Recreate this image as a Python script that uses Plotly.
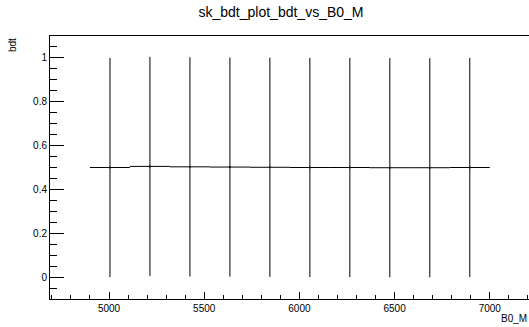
import plotly.graph_objects as go

# Profile of bdt versus B0_M: 10 bins from 4900 to 7000
bin_centers = [5005, 5215, 5425, 5635, 5845, 6055, 6265, 6475, 6685, 6895]
bdt_mean = [0.500, 0.505, 0.503, 0.502, 0.501, 0.500, 0.500, 0.499, 0.499, 0.500]
bdt_spread = [0.5, 0.5, 0.5, 0.5, 0.5, 0.5, 0.5, 0.5, 0.5, 0.5]
half_bin = [105] * 10

W, H = 529, 327
L, R, T, B = 50, 0, 36, 28
PW, PH = W - L - R, H - T - B


def px_to_paper(xp, yp):
    """Convert pixel position in the figure to paper coordinates of the plot area."""
    return (xp - L) / PW, (H - B - yp) / PH


fig = go.Figure()
fig.add_trace(go.Scatter(
    x=bin_centers, y=bdt_mean, mode="markers",
    marker=dict(color="black", size=2),
    error_x=dict(type="data", array=half_bin, width=0, thickness=1, color="black"),
    error_y=dict(type="data", array=bdt_spread, width=0, thickness=1, color="black"),
    showlegend=False, hoverinfo="x+y",
))

font = dict(family="Liberation Sans, Arial, sans-serif", color="black")

ytx, yty = px_to_paper(12, 36)
xtx, xty = px_to_paper(529, 318)

fig.update_layout(
    width=W, height=H,
    margin=dict(l=L, r=R, t=T, b=B),
    paper_bgcolor="white", plot_bgcolor="white",
    font=dict(**font, size=10),
    title=dict(text="sk_bdt_plot_bdt_vs_B0_M", x=281 / W, y=1 - 12 / H,
               xref="container", yref="container",
               xanchor="center", yanchor="middle", font=dict(**font, size=14)),
    xaxis=dict(
        range=[4690, 7206], showgrid=False, zeroline=False,
        showline=True, linecolor="black", linewidth=1, mirror=True,
        ticks="inside", ticklen=7, tickcolor="black",
        tick0=5000, dtick=500,
        minor=dict(ticks="inside", ticklen=4, dtick=100, tick0=5000, tickcolor="black"),
        tickfont=dict(**font, size=10),
    ),
    yaxis=dict(
        range=[-0.1, 1.1], showgrid=False, zeroline=False,
        showline=True, linecolor="black", linewidth=1, mirror=True,
        ticks="inside", ticklen=14, tickcolor="black",
        tick0=0, dtick=0.2,
        minor=dict(ticks="inside", ticklen=7, dtick=0.05, tick0=0, tickcolor="black"),
        tickfont=dict(**font, size=10),
    ),
    annotations=[
        dict(text="bdt", x=ytx, y=yty, xref="paper", yref="paper",
             showarrow=False, textangle=-90, xanchor="center", yanchor="top",
             font=dict(**font, size=10)),
        dict(text="B0_M", x=xtx, y=xty, xref="paper", yref="paper",
             showarrow=False, xanchor="right", yanchor="middle",
             font=dict(**font, size=10)),
    ],
)

fig.write_html("out.html")
